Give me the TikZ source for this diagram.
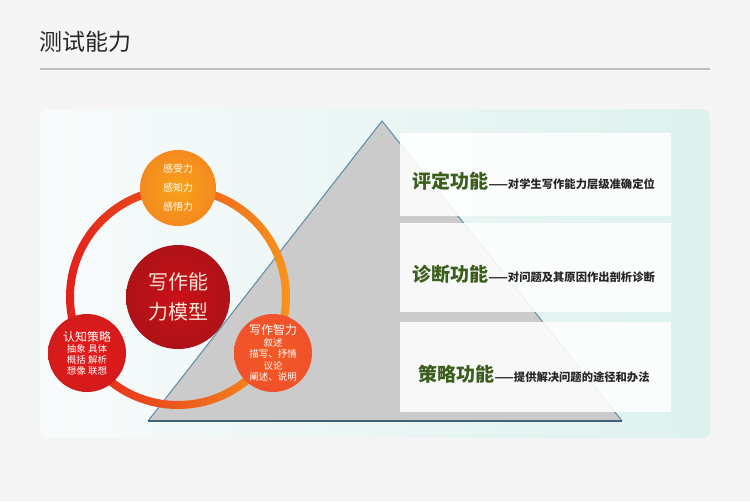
\documentclass[tikz,border=0pt]{standalone}
\usepackage{fontspec}
\newfontfamily\cjk{Noto Sans CJK SC}
\definecolor{pagegray}{HTML}{F5F5F5}
\definecolor{titlegray}{HTML}{262626}
\definecolor{rulegray}{HTML}{BDBDBD}
\definecolor{panelleft}{HTML}{F8FBFB}
\definecolor{panelright}{HTML}{DDF1EE}
\definecolor{pyramidgray}{HTML}{CBCBCB}
\definecolor{pyramidedge}{HTML}{5B8AA8}
\definecolor{ringred}{HTML}{E3201C}
\definecolor{ringorange}{HTML}{F7941D}
\definecolor{topfill}{HTML}{F58A1F}
\definecolor{corefill}{HTML}{C1141B}
\definecolor{leftfill}{HTML}{E51D1D}
\definecolor{rightfill}{HTML}{F0522A}
\definecolor{coretext}{HTML}{FBE3D6}
\definecolor{leafgreen}{HTML}{3B5E1C}
\begin{document}
\begin{tikzpicture}
        [%%%%%%%%%%%%%%%%%%%%%%%%%%%%%%
        x=1pt,y=-1pt,
        bubble/.style={circle,inner sep=0pt,align=center,text=white},
        band/.style={fill=white,fill opacity=0.88,draw=none},
        tag/.style={anchor=base west,inner sep=0pt,text=leafgreen,
          font=\cjk\bfseries\fontsize{19}{19}\selectfont},
        note/.style={anchor=base west,inner sep=0pt,text=black!85,
          font=\cjk\bfseries\fontsize{11.3}{12}\selectfont},
        ]%%%%%%%%%%%%%%%%%%%%%%%%%%%%%%

        % page and title
        \fill[pagegray] (0,0) rectangle (750,501);
        \useasboundingbox (0,0) rectangle (750,501);
        \node[anchor=base west,inner sep=0pt,text=titlegray,
          font=\cjk\fontsize{23}{23}\selectfont] (title) at (39,50) {测试能力};
        \draw[rulegray,line width=1.2pt] (40,69) -- (710,69);

        % panel
        \shade[left color=panelleft,right color=panelright,rounded corners=8pt]
          (40,109) rectangle (710,438);

        % pyramid
        \fill[pyramidgray] (382,121) -- (622,421) -- (148,421) -- cycle;
        \draw[pyramidedge,line width=1pt] (148,421) -- (382,121) -- (622,421);
        \draw[pyramidedge!70!black,line width=1.4pt] (148,421) -- (622,421);

        % bands
        \foreach \ytop/\ybot in {133/216,223/312,322/412}
          \fill[band] (400,\ytop) rectangle (671,\ybot);

        \node[tag] (ping) at (412,188) {评定功能};
        \node[note] (pingnote) at (ping.base east) {——对学生写作能力层级准确定位};
        \node[tag] (zhen) at (412,281) {诊断功能};
        \node[note] (zhennote) at (zhen.base east) {——对问题及其原因作出剖析诊断};
        \node[tag] (ce) at (418,381) {策略功能};
        \node[note] (cenote) at (ce.base east) {——提供解决问题的途径和办法};

        % ring
        \shade[left color=ringred,right color=ringorange,even odd rule]
          (178,297) circle (112) (178,297) circle (104);

        % circles
        \node[bubble,minimum size=76pt,inner color=topfill!80!yellow,outer color=topfill,
          font=\cjk\fontsize{10}{19}\selectfont] (gan) at (178,188)
          {感受力\\感知力\\感悟力};
        \node[bubble,minimum size=104pt,inner color=corefill!85!red,outer color=corefill!90!black,
          text=coretext,font=\cjk\fontsize{20}{30}\selectfont] (core) at (178,297)
          {写作能\\力模型};
        \node[bubble,minimum size=78pt,inner color=leftfill!90!red,outer color=leftfill!92!black,
          font=\cjk\fontsize{9.5}{11}\selectfont] (renzhi) at (87,353)
          {{\fontsize{12}{14}\selectfont 认知策略}\\抽象 具体\\概括 解析\\想像 联想};
        \node[bubble,minimum size=78pt,inner color=rightfill!85!orange,outer color=rightfill,
          font=\cjk\fontsize{9.5}{11.5}\selectfont] (zhili) at (273,353)
          {{\fontsize{12}{14}\selectfont 写作智力}\\叙述\\描写、抒情\\议论\\阐述、说明};
      \end{tikzpicture}
\end{document}
